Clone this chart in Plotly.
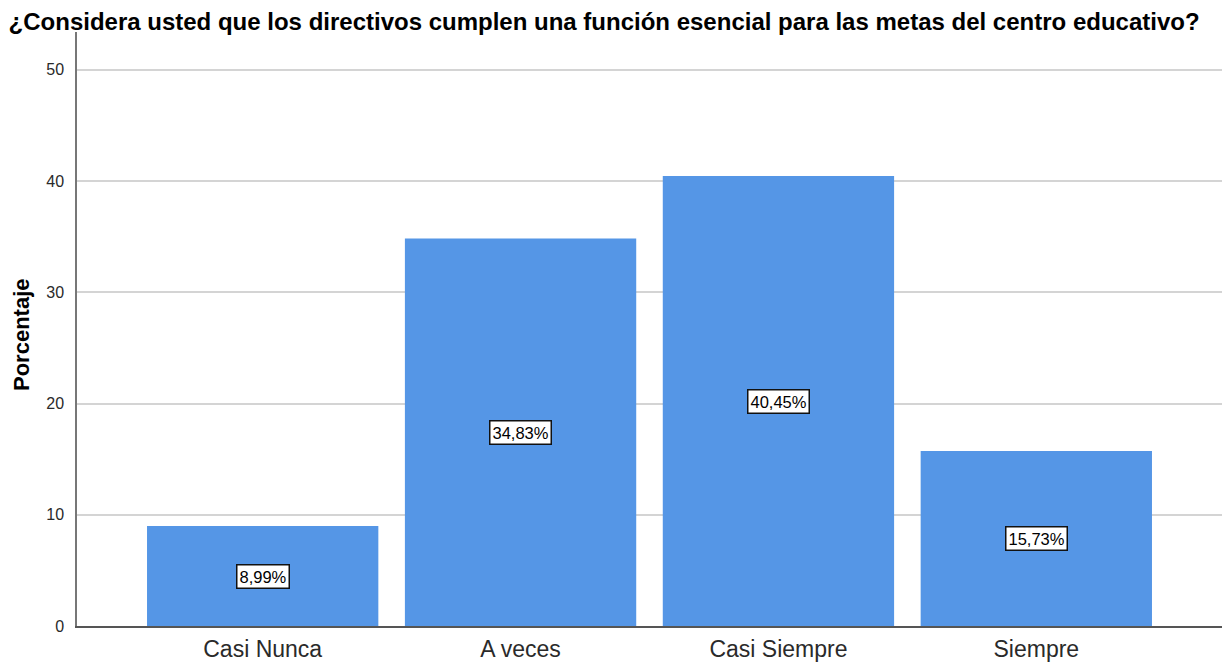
import plotly.graph_objects as go

categories = ["Casi Nunca", "A veces", "Casi Siempre", "Siempre"]
values = [8.99, 34.83, 40.45, 15.73]
labels = ["8,99%", "34,83%", "40,45%", "15,73%"]
y_ticks = [0, 10, 20, 30, 40, 50]

title_text = "¿Considera usted que los directivos cumplen una función esencial para las metas del centro educativo?"
FONT = "Arial, Liberation Sans, sans-serif"

W, H = 1224, 654

fig = go.Figure()
fig.add_trace(go.Bar(
    x=list(range(len(categories))),
    y=values,
    width=0.897,
    marker=dict(color="#5596e6", line=dict(width=0)),
    hoverinfo="skip",
))

for i, (v, lab) in enumerate(zip(values, labels)):
    fig.add_annotation(
        x=i, y=v / 2, xref="x", yref="y",
        text=lab, showarrow=False,
        font=dict(family=FONT, size=16.5, color="black"),
        bgcolor="white", bordercolor="#111111", borderwidth=1.5, borderpad=2,
    )

fig.add_annotation(
    x=0, y=0.5, xref="paper", yref="paper",
    xanchor="center", yanchor="middle", xshift=-56, yshift=-6,
    text="<b>Porcentaje</b>", textangle=-90, showarrow=False,
    font=dict(family=FONT, size=22, color="black"),
)

fig.update_layout(
    width=W, height=H,
    margin=dict(l=69, r=10, t=24, b=36),
    paper_bgcolor="white", plot_bgcolor="white",
    showlegend=False,
    title=dict(
        text="<b>" + title_text + "</b>",
        x=0.487, xanchor="center", y=1 - 14 / H, yanchor="middle",
        font=dict(family=FONT, size=24, color="black"),
        automargin=False,
    ),
    xaxis=dict(
        tickmode="array",
        tickvals=list(range(len(categories))),
        ticktext=categories,
        range=[-0.72, 3.72],
        showgrid=False, zeroline=False,
        showline=True, linecolor="#555555", linewidth=1.5,
        ticks="", tickfont=dict(family=FONT, size=23, color="#2a2a2a"),
        ticklabelstandoff=2,
        automargin=False,
    ),
    yaxis=dict(
        range=[0, 53.4],
        tickmode="array", tickvals=y_ticks,
        ticktext=[str(t) for t in y_ticks],
        showgrid=True, gridcolor="#d4d4d4", gridwidth=2,
        zeroline=False,
        showline=True, linecolor="#777777", linewidth=1.5,
        ticks="", tickfont=dict(family=FONT, size=16, color="#2a2a2a"),
        ticklabelstandoff=8,
        automargin=False,
    ),
)

fig.write_html("out.html")
